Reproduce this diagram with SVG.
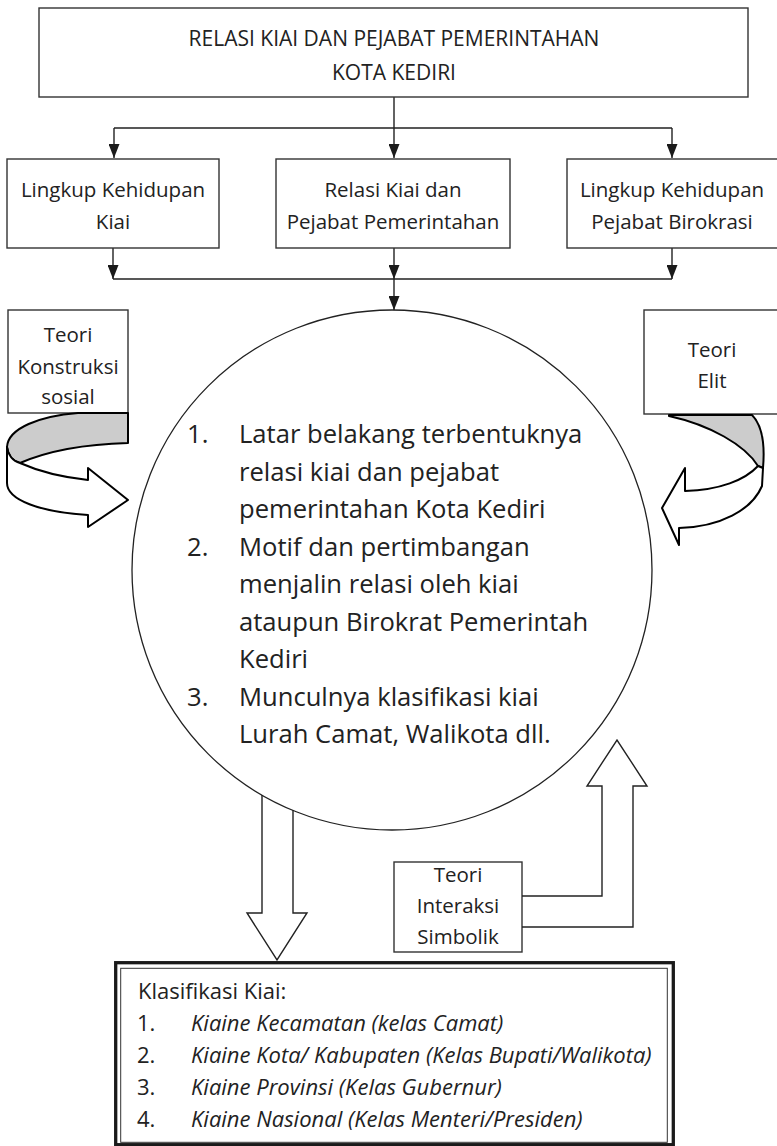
<svg xmlns="http://www.w3.org/2000/svg" width="777" height="1146" viewBox="0 0 777 1146">
<defs>
<marker id="ah" markerUnits="userSpaceOnUse" markerWidth="14" markerHeight="11" refX="14" refY="5.5" orient="auto">
<path d="M0,0 L14,5.5 L0,11 z" fill="#1a1a1a"/>
</marker>
</defs>
<style>
.bx{fill:#fff;stroke:#333;stroke-width:1.4}
.t{font-family:"Open Sans","Liberation Sans",sans-serif;fill:#222}
.lbl{font-size:20.5px;text-anchor:middle}
.ttl{font-size:21px;text-anchor:middle}
.big{font-size:25.6px}
.cl{font-size:22px}
.ln{fill:none;stroke:#222;stroke-width:1.4}
.cv{stroke:#000;stroke-width:2;stroke-linejoin:round}
</style>
<rect width="777" height="1146" fill="#fff"/>
<g id="connectors">
<path class="ln" d="M394,97 V128 M114,128 H672 M394,279 H672 M113,279 H394"/>
<path class="ln" d="M114,128 V158" marker-end="url(#ah)"/>
<path class="ln" d="M394,128 V158" marker-end="url(#ah)"/>
<path class="ln" d="M672,128 V158" marker-end="url(#ah)"/>
<path class="ln" d="M113,248 V279" marker-end="url(#ah)"/>
<path class="ln" d="M394,248 V279" marker-end="url(#ah)"/>
<path class="ln" d="M672,248 V279" marker-end="url(#ah)"/>
<path class="ln" d="M394,279 V310" marker-end="url(#ah)"/>
</g>
<g id="title">
<rect class="bx" x="39" y="8" width="709" height="89"/>
<text class="t ttl" x="394" y="46">RELASI KIAI DAN PEJABAT PEMERINTAHAN</text>
<text class="t ttl" x="394" y="80">KOTA KEDIRI</text>
</g>
<g id="lingkup-kiai">
<rect class="bx" x="7" y="159" width="212" height="89"/>
<text class="t lbl" x="113" y="197">Lingkup Kehidupan</text>
<text class="t lbl" x="113" y="229">Kiai</text>
</g>
<g id="relasi">
<rect class="bx" x="276" y="159" width="234" height="89"/>
<text class="t lbl" x="393" y="197">Relasi Kiai dan</text>
<text class="t lbl" x="393" y="229">Pejabat Pemerintahan</text>
</g>
<g id="lingkup-pejabat">
<rect class="bx" x="567" y="159" width="212" height="89"/>
<text class="t lbl" x="672" y="197">Lingkup Kehidupan</text>
<text class="t lbl" x="672" y="229">Pejabat Birokrasi</text>
</g>
<g id="teori-konstruksi">
<rect class="bx" x="8" y="310" width="120" height="103"/>
<text class="t lbl" x="68" y="342">Teori</text>
<text class="t lbl" x="68" y="374">Konstruksi</text>
<text class="t lbl" x="68" y="404">sosial</text>
<path class="cv" fill="#cccccc" d="M128,413 L78,413 C40,416 8,428 7,447 C8,455 13,461 20,463 C50,450 90,444 128,443 Z"/>
<path class="cv" fill="#fff" d="M20,463 C38,471 60,477 88,480 L88,468 L128,500 L88,527 L88,515 C40,512 7,500 7,483 L7,447 C8,455 13,461 20,463 Z"/>
</g>
<g id="teori-elit">
<rect class="bx" x="644" y="310" width="140" height="104"/>
<text class="t lbl" x="712" y="357">Teori</text>
<text class="t lbl" x="712" y="388">Elit</text>
<path class="cv" fill="#cccccc" d="M669,415 L752,415 C762,425 765,445 763,468 L758,466 C745,445 710,425 669,416 Z"/>
<path class="cv" fill="#fff" d="M758,466 C745,480 720,490 685,491 L685,468 L662,508 L679,545 L679,528 C720,527 752,510 762,486 L763,468 Z"/>
</g>
<g id="center">
<circle cx="392" cy="570" r="260" fill="#fff" stroke="#222" stroke-width="1.3"/>
<g class="t big">
<text x="187" y="443">1.</text>
<text x="239" y="443">Latar belakang terbentuknya</text>
<text x="239" y="480.5">relasi kiai dan pejabat</text>
<text x="239" y="518">pemerintahan Kota Kediri</text>
<text x="187" y="555.5">2.</text>
<text x="239" y="555.5">Motif dan pertimbangan</text>
<text x="239" y="593">menjalin relasi oleh kiai</text>
<text x="239" y="630.5">ataupun Birokrat Pemerintah</text>
<text x="239" y="668">Kediri</text>
<text x="187" y="705.5">3.</text>
<text x="239" y="705.5">Munculnya klasifikasi kiai</text>
<text x="239" y="743">Lurah Camat, Walikota dll.</text>
</g>
</g>
<g id="arrow-down">
<path class="ln" d="M262,795 V913 H247 L277,960 L307,913 H293 V810"/>
</g>
<g id="teori-interaksi">
<rect class="bx" x="394" y="862" width="128" height="90"/>
<text class="t lbl" x="458" y="882">Teori</text>
<text class="t lbl" x="458" y="913">Interaksi</text>
<text class="t lbl" x="458" y="944">Simbolik</text>
<path class="ln" d="M522,896 H602 V786 H587 L617,740 L647,786 H633 V927 H522"/>
</g>
<g id="klasifikasi">
<rect x="115.7" y="962.7" width="557.6" height="182" fill="#fff" stroke="#1a1a1a" stroke-width="3.3"/>
<rect x="120.7" y="968.3" width="546.6" height="174" fill="none" stroke="#333" stroke-width="1"/>
<g class="t cl">
<text x="138" y="999">Klasifikasi Kiai:</text>
<text x="137" y="1031">1.</text>
<text x="191" y="1031" font-style="italic">Kiaine Kecamatan (kelas Camat)</text>
<text x="137" y="1063">2.</text>
<text x="191" y="1063" font-style="italic">Kiaine Kota/ Kabupaten (Kelas Bupati/Walikota)</text>
<text x="137" y="1095">3.</text>
<text x="191" y="1095" font-style="italic">Kiaine Provinsi (Kelas Gubernur)</text>
<text x="137" y="1127">4.</text>
<text x="191" y="1127" font-style="italic">Kiaine Nasional (Kelas Menteri/Presiden)</text>
</g>
</g>
</svg>
